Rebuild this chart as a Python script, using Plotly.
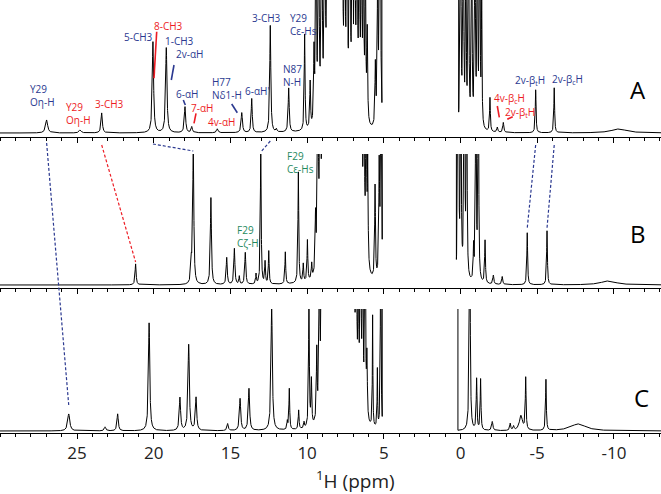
import numpy as np
import plotly.graph_objects as go

# ---------------- data ----------------
# Panel A : peak positions (ppm), heights (a.u.), half-widths (ppm)
A_ppm = [26.98, 24.80, 23.39, 20.05, 19.18, 17.96, 17.52, 15.85, 14.26, 13.61, 12.40, 12.00, 11.20, 10.16, 9.80,
         9.55, 9.42, 9.25, 9.05, 8.85, 8.68, 8.52, 8.36, 8.20, 8.04, 7.88, 7.72, 7.55, 7.40, 7.22, 7.05, 6.90,
         6.75, 6.60, 6.46, 6.33, 6.20, 6.08, 5.55, 5.40, 5.25,
         0.00, -0.18, -0.35, -0.52, -0.73, -0.94, -1.10, -1.25, -1.38,
         -1.92, -2.40, -2.79, -4.90, -6.11, -10.33]
A_height = [13, 3, 20, 91, 85, 26, 6, 4, 20, 34, 107, 3, 44, 96, 46,
            70, 250, 300, 350, 350, 400, 600, 600, 650, 650, 600, 450, 300, 300, 350, 300, 350,
            300, 250, 250, 200, 160, 90, 60, 150, 500,
            400, 350, 200, 300, 250, 300, 250, 300, 120,
            34, 5, 10, 43, 45, 4]
A_hwhm = [0.08, 0.08, 0.05, 0.05, 0.05, 0.05, 0.05, 0.06, 0.05, 0.04, 0.04, 0.04, 0.04, 0.03, 0.03] + \
         [0.03] * 26 + [0.025] * 9 + [0.03, 0.04, 0.04, 0.03, 0.03, 0.6]
A_offscale = (5.12, 0.12)

# Panel B
B_ppm = [21.18, 17.55, 17.42, 16.27, 15.24, 14.74, 14.42, 14.03, 13.33, 13.02, 12.74, 12.50, 11.42, 10.57,
         10.25, 9.98, 9.70,
         9.45, 9.30, 9.15, 9.00, 8.85, 8.70, 8.55, 8.40, 8.25, 8.10, 7.95, 7.80, 7.65, 7.50, 7.35, 7.20,
         7.05, 6.90, 6.75, 6.60, 6.45, 6.30, 6.15, 6.05, 5.57, 5.30, 5.18,
         0.15, -0.02, -0.25, -0.40, -0.85, -1.00, -1.16,
         -1.60, -2.14, -2.72, -4.35, -5.64, -9.64]
B_height = [21, 20, 140, 87, 27, 36, 8, 32, 10, 140, 22, 33, 32, 111, 18, 41, 15,
            55, 300, 350, 400, 450, 500, 550, 550, 600, 600, 550, 400, 450, 450, 400, 650,
            800, 800, 800, 700, 350, 300, 200, 100, 93, 108, 300,
            500, 300, 400, 300, 32, 300, 300,
            43, 9, 8, 52, 54, 4]
B_hwhm = [0.04, 0.04, 0.04, 0.04, 0.04, 0.04, 0.03, 0.04, 0.03, 0.03, 0.03, 0.03, 0.03, 0.03, 0.03, 0.03, 0.03] + \
         [0.03] * 27 + [0.025] * 7 + [0.03, 0.04, 0.04, 0.03, 0.03, 0.6]
B_offscale = (5.10, 0.27)

# Panel C
C_ppm = [25.54, 23.17, 22.35, 20.30, 18.29, 17.72, 17.24, 15.18, 14.37, 13.79, 12.31, 11.29, 11.16, 10.55,
         10.20, 9.88, 9.72,
         9.37, 9.20, 9.05, 8.90, 8.75, 8.60, 8.45, 8.30, 8.15, 8.00, 7.85, 7.70, 7.55, 7.40, 7.25, 7.10,
         6.95, 6.80, 6.66, 6.52, 6.38, 6.22, 6.10, 5.73, 5.42, 5.20,
         -0.60, -1.05, -1.31,
         -2.07, -3.24, -3.46, -3.94, -4.25, -5.57, -7.68]
C_height = [17, 4, 17, 108, 33, 86, 33, 7, 32, 42, 125, 8, 41, 19, 6, 125, 45,
            70, 200, 350, 400, 400, 450, 500, 500, 600, 800, 800, 800, 800, 700, 450, 350,
            400, 300, 150, 300, 200, 250, 60, 111, 58, 300,
            300, 51, 51,
            9, 7, 4, 15, 52, 51, 7]
C_hwhm = [0.08, 0.06, 0.05, 0.05, 0.05, 0.05, 0.05, 0.05, 0.05, 0.05, 0.05, 0.03, 0.03, 0.03, 0.03, 0.03, 0.03] + \
         [0.03] * 23 + [0.02, 0.02, 0.02] + [0.03, 0.03, 0.03] + [0.05, 0.04, 0.04, 0.12, 0.03, 0.03, 0.6]
C_offscale = (5.10, 0.17)

tick_vals = [25, 20, 15, 10, 5, 0, -5, -10]
tick_text = ["25", "20", "15", "10", "5", "0", "-5", "-10"]

BLUE = "#2b3990"
RED = "#ed1c24"
GREEN = "#1f8a5e"

# ---------------- geometry helpers ----------------
W, H_PLOT = 661, 433
def px(x):
    return x / W
def py(y):
    return (H_PLOT - y) / H_PLOT

x = np.union1d(np.arange(-13.2, 30.2, 0.004), np.array(A_ppm + B_ppm + C_ppm))

def spectrum(ppm, h, w, off):
    y = np.zeros_like(x)
    for p, hh, ww in zip(ppm, h, w):
        y += hh / (1.0 + ((x - p) / ww) ** 2)
    hi, lo = off
    y[(x <= hi) & (x >= lo)] = 1e4
    return y

yA = spectrum(A_ppm, A_height, A_hwhm, A_offscale)
yB = spectrum(B_ppm, B_height, B_hwhm, B_offscale)
yC = spectrum(C_ppm, C_height, C_hwhm, C_offscale)

fig = go.Figure()
line = dict(color="black", width=1)
fig.add_trace(go.Scatter(x=x, y=yC, mode="lines", line=line, xaxis="x", yaxis="y", hoverinfo="skip"))
fig.add_trace(go.Scatter(x=x, y=yB, mode="lines", line=line, xaxis="x2", yaxis="y2", hoverinfo="skip"))
fig.add_trace(go.Scatter(x=x, y=yA, mode="lines", line=line, xaxis="x3", yaxis="y3", hoverinfo="skip"))

XR = [30.02, -13.07]
def xax(anchor, labels):
    return dict(range=XR, anchor=anchor, showline=True, linecolor="black", linewidth=1,
                ticks="outside", ticklen=5, tickwidth=1, tickcolor="black",
                tickvals=tick_vals, ticktext=tick_text, showticklabels=labels,
                minor=dict(tickvals=list(range(-13, 31)), ticks="outside", ticklen=3, tickcolor="black", tickwidth=1),
                showgrid=False, zeroline=False, domain=[0, 1],
                tickfont=dict(family="Open Sans", size=17, color="#222"))

fig.update_layout(
    width=W, height=494, margin=dict(l=0, r=0, t=0, b=61),
    paper_bgcolor="white", plot_bgcolor="white", showlegend=False,
    xaxis=xax("y", True),
    xaxis2=xax("y2", False),
    xaxis3=xax("y3", False),
    yaxis=dict(domain=[0, py(309)], range=[-2, 122], visible=False),
    yaxis2=dict(domain=[py(288), py(154)], range=[-3, 131], visible=False),
    yaxis3=dict(domain=[py(137), 1], range=[-4, 133], visible=False),
)

# axis title
fig.add_annotation(text="<sup>1</sup>H (ppm)", x=px(355), y=py(480), xref="paper", yref="paper",
                   xanchor="center", yanchor="middle", showarrow=False,
                   font=dict(family="Open Sans", size=19, color="#222"))

# ---------------- labels ----------------
labels = [
    ("Y29<br>Oη-H", BLUE, 28, 96),
    ("Y29<br>Oη-H", RED, 64, 113.5),
    ("3-CH3", RED, 92.5, 103.5),
    ("5-CH3", BLUE, 121.5, 37.5),
    ("8-CH3", RED, 151.5, 25.5),
    ("1-CH3", BLUE, 162.5, 41),
    ("2v-αH", BLUE, 174, 54.5),
    ("6-αH", BLUE, 174, 93.5),
    ("7-αH", RED, 189, 107.5),
    ("4v-αH", RED, 206, 122),
    ("H77<br>Nδ1-H", BLUE, 210, 88),
    ("6-αH'", BLUE, 242.5, 90.5),
    ("3-CH3", BLUE, 250, 17.5),
    ("N87<br>N-H", BLUE, 281, 75.5),
    ("Y29<br>Cε-Hs", BLUE, 288, 24.5),
    ("4v-β<sub>c</sub>H", RED, 492.5, 98),
    ("2v-β<sub>t</sub>H", RED, 503, 112.5),
    ("2v-β<sub>t</sub>H", BLUE, 512.5, 80.5),
    ("2v-β<sub>c</sub>H", BLUE, 550, 79.5),
    ("F29<br>Cε-Hs", GREEN, 285, 162),
    ("F29<br>Cζ-H", GREEN, 235, 237),
]
for t, c, lx, ly in labels:
    fig.add_annotation(text=t, x=px(lx), y=py(ly), xref="paper", yref="paper",
                       xanchor="left", yanchor="middle", align="left", showarrow=False,
                       font=dict(family="Open Sans", size=10, color=c))

for t, lx, ly in [("A", 638, 90), ("B", 638, 233), ("C", 641, 397)]:
    fig.add_annotation(text=t, x=px(lx), y=py(ly), xref="paper", yref="paper",
                       xanchor="center", yanchor="middle", showarrow=False,
                       font=dict(family="Open Sans", size=24, color="black"))

# pointer ticks next to labels
pointers = [
    (RED, 156.7, 31.7, 154, 78.3),
    (BLUE, 174, 65, 171.3, 80),
    (BLUE, 183.3, 100, 185.3, 105),
    (RED, 196, 113.3, 194, 123.3),
    (BLUE, 231.7, 104, 237.3, 112.7),
    (RED, 497.3, 106, 499.3, 117.3),
    (RED, 507.3, 119.3, 512.7, 116.7),
]
for c, x0, y0, x1, y1 in pointers:
    fig.add_shape(type="line", xref="paper", yref="paper", x0=px(x0), y0=py(y0), x1=px(x1), y1=py(y1),
                  line=dict(color=c, width=1.6))

# dashed connectors between corresponding peaks (ppm from the peak tables)
connectors = [
    (BLUE, A_ppm[0], 143, C_ppm[0], 405),
    (RED, A_ppm[2], 145, B_ppm[0], 262),
    (BLUE, A_ppm[3], 144, B_ppm[2], 151),
    (BLUE, A_ppm[10], 141, B_ppm[9], 152),
    (BLUE, A_ppm[-3], 145, B_ppm[-3], 228),
    (BLUE, A_ppm[-2], 145, B_ppm[-2], 228),
]
for c, xa, ya, xb, yb in connectors:
    fig.add_shape(type="line", xref="x", yref="paper", x0=xa, y0=py(ya), x1=xb, y1=py(yb),
                  line=dict(color=c, width=1.2, dash="3px,2px"))

fig.write_html("out.html", config={"displayModeBar": False},
               post_script="document.body.style.margin='0';document.body.style.padding='0';"
                           "document.documentElement.style.overflow='hidden';")
